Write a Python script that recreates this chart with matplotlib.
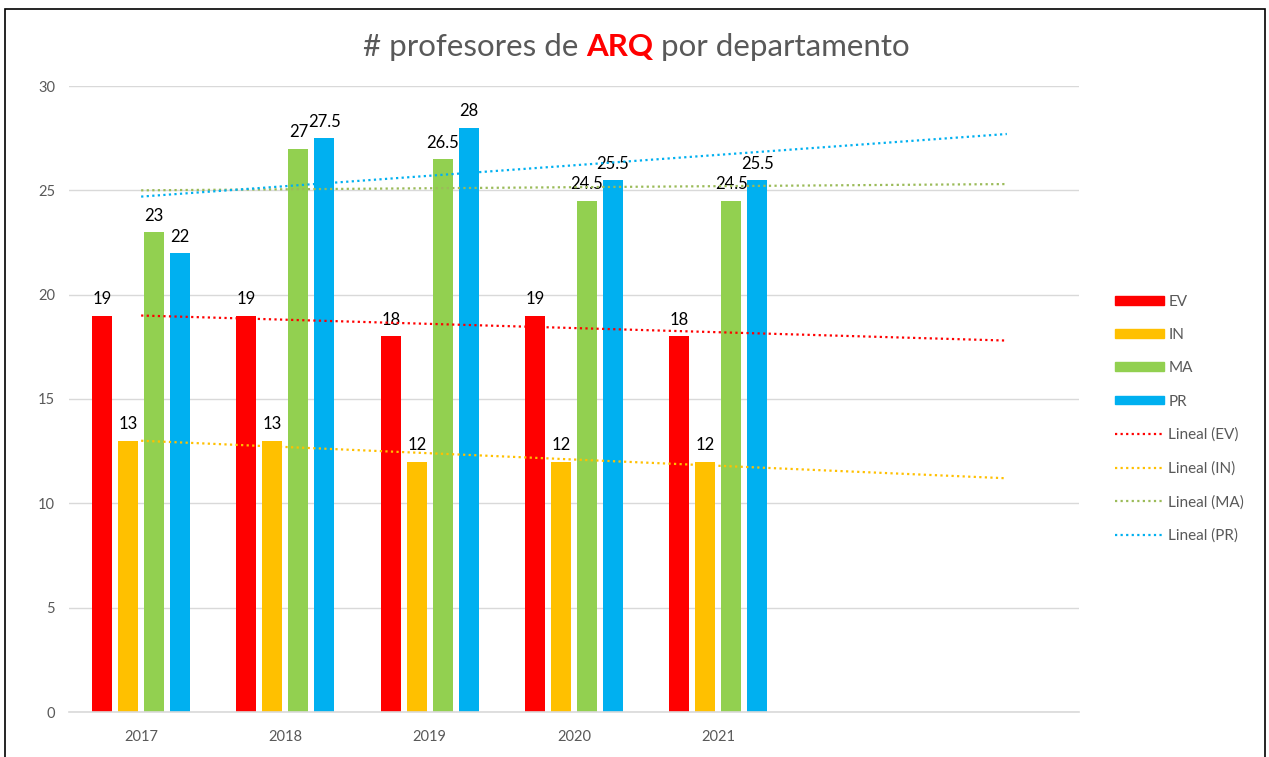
import numpy as np
import matplotlib
matplotlib.use("Agg")
import matplotlib.pyplot as plt
from matplotlib.patches import Rectangle, Patch
from matplotlib.lines import Line2D

plt.rcParams['font.family'] = ['Lato', 'DejaVu Sans']

years = ['2017', '2018', '2019', '2020', '2021']
series = ['EV', 'IN', 'MA', 'PR']
ev = [19, 19, 18, 19, 18]
in_ = [13, 13, 12, 12, 12]
ma = [23, 27, 26.5, 24.5, 24.5]
pr = [22, 27.5, 28, 25.5, 25.5]
values = [ev, in_, ma, pr]
colors = ['#FF0000', '#FFC000', '#92D050', '#00B0F0']
trend_colors = ['#FF0000', '#FFC000', '#9BBB59', '#00B0F0']
forecast = 2  # trendline extended 2 periods forward, as in the sheet

GRAY = '#595959'
DOTS = (0, (1, 1.5))

fig = plt.figure(figsize=(12.69, 7.57), dpi=100)
ax = fig.add_axes([69 / 1269, 1 - 712 / 757, 1010 / 1269, 626 / 757])

x = np.arange(1, len(years) + 1)
step, width = 0.18, 0.139
for i, (name, vals, col) in enumerate(zip(series, values, colors)):
    xs = x + (i - 1.5) * step
    ax.bar(xs, vals, width=width, color=col, zorder=2)
    for xi, v in zip(xs, vals):
        ax.annotate(f"{v:g}", (xi, v), xytext=(0, 6), textcoords='offset points',
                    ha='center', va='bottom', fontsize=12, color='black')

# linear trendlines
xt = np.array([1, len(years) + forecast])
for vals, col in zip(values, trend_colors):
    k, b = np.polyfit(x, vals, 1)
    ax.plot(xt, k * xt + b, linestyle=DOTS, color=col, lw=1.6, zorder=3)

ax.set_xlim(0.5, len(years) + forecast + 0.5)
ax.set_ylim(0, 30)
ax.set_yticks(range(0, 31, 5))
ax.set_xticks(x)
ax.set_xticklabels(years)
ax.tick_params(length=0, colors=GRAY, labelsize=10.5)
ax.tick_params(axis='x', pad=13)
ax.tick_params(axis='y', pad=10)
ax.grid(axis='y', color='#D9D9D9', lw=1, zorder=0)
for s in ['top', 'right', 'left']:
    ax.spines[s].set_visible(False)
ax.spines['bottom'].set_color('#D9D9D9')
ax.spines['bottom'].set_linewidth(1.2)

handles = [Patch(color=c) for c in colors]
handles += [Line2D([0], [0], color=c, lw=1.6, linestyle=DOTS) for c in trend_colors]
labels = series + [f"Lineal ({s})" for s in series]
fig.legend(handles, labels, loc='upper left', bbox_to_anchor=(1101 / 1269, 1 - 281 / 757),
           frameon=False, fontsize=11, handlelength=3.2, handleheight=0.5,
           labelspacing=1.26, handletextpad=0.3, labelcolor=GRAY)

# title with ARQ highlighted
fig.canvas.draw()
r = fig.canvas.get_renderer()
parts = [("# profesores de ", GRAY, 'normal'), ("ARQ", '#FF0000', 'bold'),
         (" por departamento", GRAY, 'normal')]
texts = [fig.text(0, 1 - 47 / 757, s, color=c, fontweight=w, fontsize=22.5, va='center')
         for s, c, w in parts]
widths = [t.get_window_extent(r).width for t in texts]
xpos = 636 - sum(widths) / 2
for t, w in zip(texts, widths):
    t.set_x(xpos / 1269)
    xpos += w

fig.patches.append(Rectangle((5 / 1269, -0.01), 1260 / 1269, 1.01 - 9 / 757,
                             transform=fig.transFigure, fill=False, ec='black', lw=1.2))

fig.savefig('out.png', dpi=100)
